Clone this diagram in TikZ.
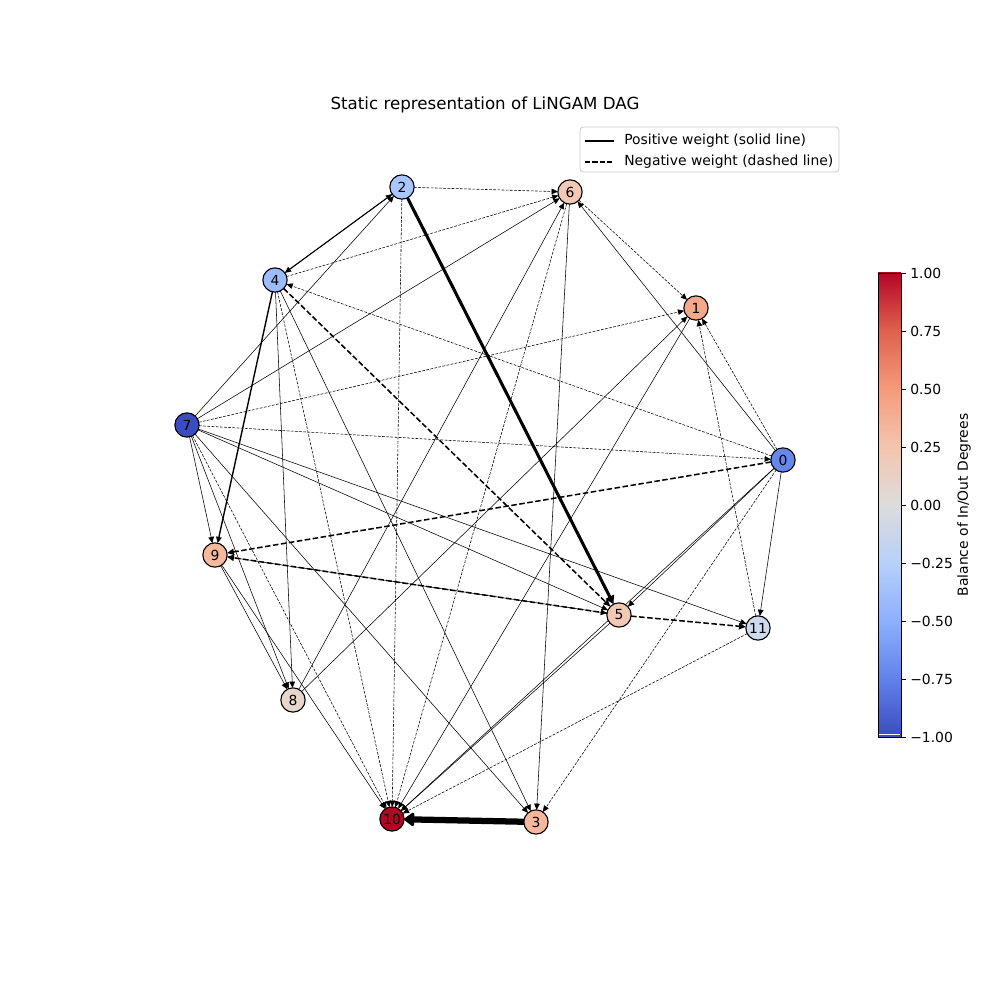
\documentclass[tikz,border=0pt]{standalone}
\usepackage{fontspec}
\setmainfont{DejaVu Sans}
\usetikzlibrary{arrows.meta}
\pgfdeclarelayer{bg}
\pgfsetlayers{bg,main}
\definecolor{cb0}{RGB}{59,76,192}
\definecolor{cb1}{RGB}{98,130,234}
\definecolor{cb2}{RGB}{141,176,254}
\definecolor{cb3}{RGB}{184,208,249}
\definecolor{cb4}{RGB}{221,220,220}
\definecolor{cb5}{RGB}{244,196,173}
\definecolor{cb6}{RGB}{244,154,123}
\definecolor{cb7}{RGB}{222,96,77}
\definecolor{cb8}{RGB}{180,4,38}
\definecolor{k0}{RGB}{102,135,237}
\definecolor{k1}{RGB}{246,168,138}
\definecolor{k2}{RGB}{170,199,253}
\definecolor{k3}{RGB}{246,184,156}
\definecolor{k4}{RGB}{155,188,255}
\definecolor{k5}{RGB}{242,201,180}
\definecolor{k6}{RGB}{242,201,180}
\definecolor{k7}{RGB}{59,76,192}
\definecolor{k8}{RGB}{232,214,204}
\definecolor{k9}{RGB}{246,185,158}
\definecolor{k10}{RGB}{180,4,38}
\definecolor{k11}{RGB}{205,217,236}
\definecolor{legframe}{RGB}{204,204,204}
\tikzset{
  gn/.style={circle, draw=black, line width=0.8pt, minimum size=17.5pt, inner sep=0pt, outer sep=0pt},
  e/.style={draw=black, line width=0.4pt, -{Triangle[length=4.5pt,width=4pt]}},
  ed/.style={e, dash pattern=on 2pt off 1pt},
  em/.style={draw=black, line width=1.1pt, dash pattern=on 4pt off 1.8pt, -{Triangle[length=5pt,width=4.5pt]}},
  tk/.style={anchor=west, inner sep=0pt}
}
\begin{document}
\begin{tikzpicture}[x=0.72pt,y=-0.72pt]
\useasboundingbox (0,0) rectangle (1000,1000);
% nodes
\node[gn, fill=k2] (n2) at (402,187) {2};
\node[gn, fill=k6] (n6) at (570,192) {6};
\node[gn, fill=k4] (n4) at (275,280) {4};
\node[gn, fill=k1] (n1) at (696,308) {1};
\node[gn, fill=k7] (n7) at (187,425) {7};
\node[gn, fill=k0] (n0) at (783,460) {0};
\node[gn, fill=k9] (n9) at (215,555) {9};
\node[gn, fill=k5] (n5) at (619,615) {5};
\node[gn, fill=k11] (n11) at (758,628) {11};
\node[gn, fill=k8] (n8) at (293,700) {8};
\node[gn, fill=k10] (n10) at (392,819) {10};
\node[gn, fill=k3] (n3) at (536,822) {3};
% edges
\begin{pgfonlayer}{bg}
\draw[e] (n7) -- (n2);
\draw[e] (n4) -- (n2);
\draw[e] (n7) -- (n6);
\draw[e] (n7) -- (n5);
\draw[e] (n7) -- (n11);
\draw[e] (n7) -- (n9);
\draw[e] (n7) -- (n3);
\draw[e] (n7) -- (n8);
\draw[e] (n0) -- (n6);
\draw[e] (n0) -- (n5);
\draw[e] (n0) -- (n11);
\draw[e] (n0) -- (n10);
\draw[e] (n8) -- (n1);
\draw[e] (n1) -- (n10);
\draw[e] (n8) -- (n6);
\draw[e] (n6) -- (n3);
\draw[e] (n9) -- (n8);
\draw[e] (n9) -- (n10);
\draw[e] (n9) -- (n5);
\draw[e] (n5) -- (n10);
\draw[e] (n4) -- (n8);
\draw[e] (n4) -- (n3);
\draw[ed] (n2) -- (n6);
\draw[ed] (n2) -- (n10);
\draw[ed] (n4) -- (n6);
\draw[ed] (n4) -- (n10);
\draw[ed] (n0) -- (n4);
\draw[ed] (n7) -- (n1);
\draw[ed] (n7) -- (n0);
\draw[ed] (n0) -- (n1);
\draw[ed] (n0) -- (n3);
\draw[ed] (n6) -- (n1);
\draw[ed] (n11) -- (n1);
\draw[ed] (n6) -- (n10);
\draw[ed] (n11) -- (n10);
\draw[ed] (n7) -- (n10);
\draw[e, line width=0.75pt] (n2) -- (n4);
\draw[e, line width=1pt] (n4) -- (n9);
\draw[em] (n4) -- (n5);
\draw[em] (n0) -- (n9);
\draw[em] (n5) -- (n9);
\draw[em] (n5) -- (n11);
\draw[draw=black, line width=2.2pt, -{Triangle[length=6pt,width=6.5pt]}] (n2) -- (n5);
\draw[draw=black, line width=4.5pt, -{Triangle[length=8pt,width=11pt,round]}] (n3) -- (n10);
\end{pgfonlayer}
% title
\node (title) at (485,105) {\fontsize{12}{14}\selectfont Static representation of LiNGAM DAG};
% legend
\draw[rounded corners=2.5pt, draw=legframe, line width=0.6pt, fill=white] (580,127) rectangle (839,172);
\coordinate (la1) at (585,141);
\coordinate (lb1) at (614,141);
\coordinate (la2) at (585,162);
\coordinate (lb2) at (614,162);
\draw[line width=1pt] (la1) -- (lb1);
\draw[line width=1pt, dash pattern=on 3.7pt off 1.6pt] (la2) -- (lb2);
\node[tk] (lt1) at (624,141) {Positive weight (solid line)};
\node[tk] (lt2) at (624,162) {Negative weight (dashed line)};
% colorbar
\foreach \lo/\hi [count=\k from 0] in {cb0/cb1,cb1/cb2,cb2/cb3,cb3/cb4,cb4/cb5,cb5/cb6,cb6/cb7,cb7/cb8} {
  \foreach \i in {0,...,57} {
    \pgfmathsetmacro{\p}{100*\i/58}
    \pgfmathsetmacro{\yy}{737-58*\k-\i}
    \fill[\hi!\p!\lo] (878,\yy) rectangle (901,\yy-1.6);
  }
}
\draw[white, line width=0.7pt] (878.6,734.6) -- (900.4,734.6);
\draw[line width=0.7pt] (878,273) rectangle (901,737);
\foreach \y/\t [count=\j] in {273/1.00, 331/0.75, 389/0.50, 447/0.25, 505/0.00, 563/−0.25, 621/−0.50, 679/−0.75, 737/−1.00} {
  \draw[line width=0.7pt] (901,\y) -- (906,\y);
  \node[tk] (tick\j) at (910,\y) {\t};
}
\node[rotate=90] (cblab) at (964,505) {Balance of In/Out Degrees};
\end{tikzpicture}
\end{document}
